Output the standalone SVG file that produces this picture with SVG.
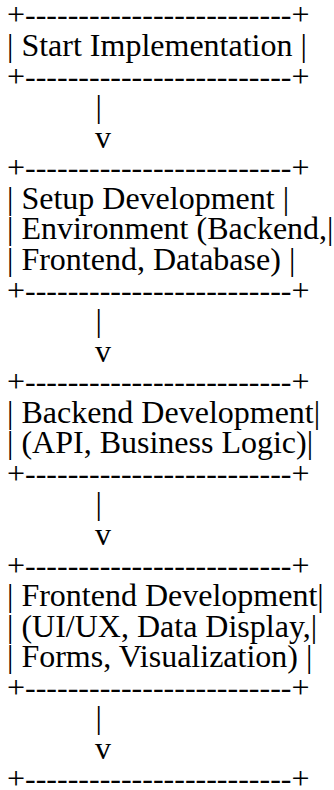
<svg xmlns="http://www.w3.org/2000/svg" width="334" height="790" viewBox="0 0 334 790">
<style>
.a{font-size:32px;fill:#000;white-space:pre}
</style>
<rect width="334" height="790" fill="#fff"/>
<g id="node-start" class="a" font-family="Liberation Serif">
<text x="7" y="25.4">+-------------------------+</text>
<text x="7" y="56">| Start Implementation |</text>
<text x="7" y="86.6">+-------------------------+</text>
</g>
<g id="node-setup" class="a" font-family="Liberation Serif">
<text x="7" y="178.2">+-------------------------+</text>
<text x="7" y="208.8">| Setup Development |</text>
<text x="7" y="239.4">| Environment (Backend,|</text>
<text x="7" y="269.9">| Frontend, Database) |</text>
<text x="7" y="300.5">+-------------------------+</text>
</g>
<g id="node-backend" class="a" font-family="Liberation Serif">
<text x="7" y="392.2">+-------------------------+</text>
<text x="7" y="422.7">| Backend Development|</text>
<text x="7" y="453.3">| (API, Business Logic)|</text>
<text x="7" y="483.8">+-------------------------+</text>
</g>
<g id="node-frontend" class="a" font-family="Liberation Serif">
<text x="7" y="575.5">+-------------------------+</text>
<text x="7" y="606.1">| Frontend Development|</text>
<text x="7" y="636.6">| (UI/UX, Data Display,|</text>
<text x="7" y="667.2">| Forms, Visualization) |</text>
<text x="7" y="697.8">+-------------------------+</text>
</g>
<g id="node-next" class="a" font-family="Liberation Serif">
<text x="7" y="789.4">+-------------------------+</text>
</g>
<g id="connectors" class="a" font-family="Liberation Serif">
<text x="95.5" y="117.1">|</text>
<text x="95" y="147.7">v</text>
<text x="95.5" y="331.1">|</text>
<text x="95" y="361.6">v</text>
<text x="95.5" y="514.4">|</text>
<text x="95" y="544.9">v</text>
<text x="95.5" y="728.3">|</text>
<text x="95" y="758.9">v</text>
</g>
</svg>
